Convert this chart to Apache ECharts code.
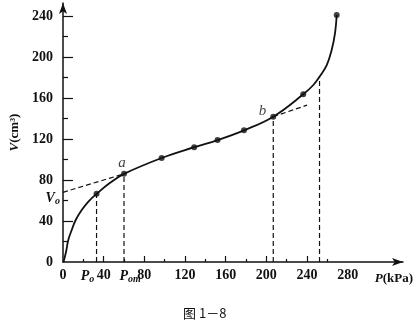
<!DOCTYPE html>
<html>
<head>
<meta charset="utf-8">
<script src="https://cdn.jsdelivr.net/npm/echarts@6/dist/echarts.min.js"></script>
<style>html,body{margin:0;padding:0;background:#fff;}#c{width:415px;height:323px;}</style>
</head>
<body>
<div id="c"></div>
<script>
// Curve (P in kPa, V in cm3)
const curveP = [0.5, 3, 5.2, 8.5, 12.5, 18.4, 25, 33, 46, 60, 97, 129, 152, 178, 206.8, 236.3, 246.2, 252.8, 259.4, 264.3, 267.5, 269.2];
const curveV = [0, 10, 21.5, 31, 41, 50.7, 59, 66.5, 77, 86, 101.5, 112, 119, 128.5, 141.8, 163.6, 172.7, 181.5, 192, 207, 223, 241];
// Marked points
const dotP = [33, 60, 97, 129, 152, 178, 206.8, 236.3, 269.2];
const dotV = [66.5, 86, 101.5, 112, 119, 128.5, 141.8, 163.6, 241];
const dotLabels = ['', 'a', '', '', '', '', 'b', '', ''];
// Tangent lines
const tanAP = [0, 60];
const tanAV = [68, 86];
const tanBP = [206.8, 240];
const tanBV = [141.8, 153];
// Vertical drop lines
const dropP = [33, 60, 206.8, 252.3];
const dropV = [66.5, 86, 141.8, 181];
// Tick labels
const xLabelValues = [0, 24, 40, 66, 80, 120, 160, 200, 240, 280];
const xLabelTexts = ['0', '{i|P}{s|o}', '40', '{i|P}{s|om}', '80', '120', '160', '200', '240', '280'];
const xMajorTicks = [40, 80, 120, 160, 200, 240];
const xMinorTicks = [20, 60, 100, 140, 180, 220, 260];
const yLabelValues = [0, 40, 80, 120, 160, 200, 240];
const yMajorTicks = [40, 80, 120, 160, 200, 240];
const yMinorTicks = [20, 60, 100, 140, 180, 220];

const serif = '"Liberation Serif", "DejaVu Serif", serif';
const ink = '#111';
const rich = {
  i: {fontFamily: serif, fontStyle: 'italic', fontWeight: 'bold', fontSize: 14, color: ink},
  s: {fontFamily: serif, fontStyle: 'italic', fontWeight: 'bold', fontSize: 10, color: ink, verticalAlign: 'bottom', padding: [6, 0, 0, 0]}
};
const X_MAX = 334.4, Y_MAX = 252.7;

function zip(a, b) { return a.map((v, i) => [v, b[i]]); }

const dashed = {color: ink, width: 1.2, type: [5, 3]};
const series = [];
series.push({
  type: 'line', data: zip(curveP, curveV), smooth: 0.4,
  showSymbol: false, lineStyle: {color: ink, width: 1.8}, silent: true, z: 5
});
series.push({
  type: 'line', data: zip(tanAP, tanAV).map((d, i) => i === 0 ? {
    value: d, label: {show: true, position: 'left', distance: 3, offset: [0, 6],
      formatter: '{i|V}{s|o}', rich: rich}
  } : d),
  showSymbol: true, symbol: 'circle', symbolSize: 0.1, itemStyle: {color: 'rgba(0,0,0,0)'},
  label: {show: false}, lineStyle: dashed, silent: true
});
series.push({type: 'line', data: zip(tanBP, tanBV), showSymbol: false, lineStyle: dashed, silent: true});
dropP.forEach((p, i) => {
  series.push({type: 'line', data: [[p, 0], [p, dropV[i]]], showSymbol: false, lineStyle: dashed, silent: true});
});
series.push({
  type: 'scatter', symbolSize: 6, itemStyle: {color: ink}, z: 6,
  data: dotP.map((p, i) => {
    const item = {value: [p, dotV[i]]};
    if (dotLabels[i]) {
      item.label = {
        show: true, formatter: dotLabels[i],
        position: i === 1 ? 'top' : 'left',
        distance: i === 1 ? 0 : 4,
        offset: i === 1 ? [-2, 0] : [0, -6],
        fontFamily: serif, fontStyle: 'italic', fontSize: 15, color: ink
      };
    }
    return item;
  })
});

function xAxisBase(extra) {
  return Object.assign({
    type: 'value', min: 0, max: X_MAX, position: 'bottom', splitLine: {show: false}
  }, extra);
}
function yAxisBase(extra) {
  return Object.assign({
    type: 'value', min: 0, max: Y_MAX, position: 'left', splitLine: {show: false}
  }, extra);
}

const option = {
  animation: false,
  backgroundColor: '#fff',
  title: {
    text: '图 1－8', left: 178, top: 302,
    textStyle: {fontFamily: '"Noto Sans CJK SC", serif', fontSize: 13, fontWeight: 'normal', color: ink}
  },
  grid: {left: 63, right: 12, top: 3, bottom: 61, containLabel: false, outerBoundsMode: 'none'},
  xAxis: [
    xAxisBase({
      axisLine: {show: true, lineStyle: {color: ink, width: 1.5}, symbol: ['none', 'arrow'], symbolSize: [6, 11]},
      axisTick: {show: true, inside: true, length: 6, customValues: xMajorTicks, lineStyle: {color: ink, width: 1.2}},
      axisLabel: {
        show: true, customValues: xLabelValues, margin: 6,
        formatter: v => xLabelTexts[xLabelValues.indexOf(v)],
        fontFamily: serif, fontSize: 14, fontWeight: 'bold', color: ink, rich: rich
      },
      name: '{i|P}(kPa)', nameLocation: 'end', nameGap: 10,
      nameTextStyle: {fontFamily: serif, fontSize: 13, fontWeight: 'bold', color: ink, align: 'right', verticalAlign: 'top',
        padding: [10, 0, 0, 0], rich: {i: {fontFamily: serif, fontStyle: 'italic', fontSize: 13, color: ink}}}
    }),
    xAxisBase({
      axisLine: {show: false},
      axisTick: {show: true, inside: true, length: 3, customValues: xMinorTicks, lineStyle: {color: ink, width: 1.2}},
      axisLabel: {show: false}
    })
  ],
  yAxis: [
    yAxisBase({
      axisLine: {show: true, lineStyle: {color: ink, width: 1.5}, symbol: ['none', 'arrow'], symbolSize: [6, 11]},
      axisTick: {show: true, inside: true, length: 10, customValues: yMajorTicks, lineStyle: {color: ink, width: 1.2}},
      axisLabel: {show: true, customValues: yLabelValues, margin: 10, fontFamily: serif, fontSize: 14, fontWeight: 'bold', color: ink},
      name: '{i|V}(cm³)', nameLocation: 'middle', nameGap: 38, nameRotate: 90,
      nameTextStyle: {fontFamily: serif, fontSize: 13, fontWeight: 'bold', color: ink,
        rich: {i: {fontFamily: serif, fontStyle: 'italic', fontSize: 13, color: ink}}}
    }),
    yAxisBase({
      axisLine: {show: false},
      axisTick: {show: true, inside: true, length: 5, customValues: yMinorTicks, lineStyle: {color: ink, width: 1.2}},
      axisLabel: {show: false}
    })
  ],
  series: series
};

const chart = echarts.init(document.getElementById('c'), null, {renderer: 'canvas'});
chart.setOption(option);
</script>
</body>
</html>
